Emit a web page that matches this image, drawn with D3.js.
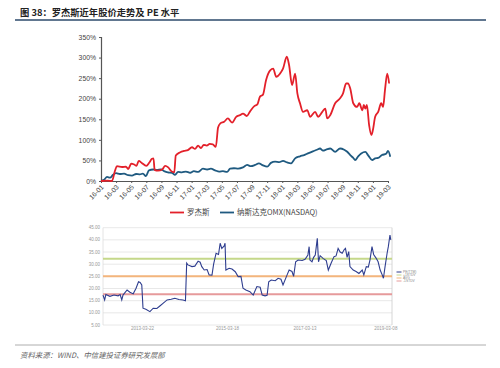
<!DOCTYPE html>
<html><head><meta charset="utf-8">
<script src="https://cdn.jsdelivr.net/npm/d3@7"></script>
<style>html,body{margin:0;padding:0;background:#fff;}svg{display:block;}</style>
</head><body>
<svg id="c" width="500" height="368"></svg>
<script>
// ---------- top chart data (months since 2016-01, cumulative return %) ----------
const xTickMonths = [0,2,4,6,8,10,12,14,16,18,20,22,24,26,28,30,32,34,36,38];
const xTickLabels = ["16-01","16-03","16-05","16-07","16-09","16-11","17-01","17-03","17-05","17-07","17-09","17-11","18-01","18-03","18-05","18-07","18-09","18-11","19-01","19-03"];
const yTicks = [0,50,100,150,200,250,300,350];
const seriesNames = ["罗杰斯","纳斯达克OMX(NASDAQ)"];

const rogersMonths = [0,0.9,1.45,1.85,2.1,2.8,3.3,3.6,4.0,4.4,4.7,5.0,5.4,6.0,6.4,6.75,6.95,7.1,7.55,8.1,8.5,8.9,9.3,9.7,9.9,10.5,11.0,11.5,12.05,12.45,12.85,13.25,13.6,14.0,14.4,14.8,15.2,15.5,15.8,16.3,16.8,17.35,17.9,18.4,18.8,19.3,19.7,20.3,20.7,21.05,21.45,21.85,22.4,22.8,23.2,23.7,24.1,24.6,24.9,25.3,25.7,26.0,26.35,26.75,27.3,27.7,28.35,28.75,29.3,29.7,29.95,30.35,31.0,31.65,32.05,32.45,32.7,33.0,33.4,33.9,34.2,34.6,34.8,35.0,35.2,35.5,35.8,36.0,36.3,36.7,37.1,37.35,37.6,37.9,38.15];
const rogersValues = [0,1,0,25,36,34,35,29,42,40,37,49,44,37,45,54,55,27,25,28,37,33,24,21,62,70,73,75,82,78,86,80,88,86,90,89,83,130,140,144,152,142,156,160,164,158,168,182,186,205,210,245,269,273,253,261,273,302,282,233,261,213,189,168,172,156,168,156,168,176,152,160,189,201,213,237,237,225,189,180,189,172,185,176,185,136,112,124,156,168,189,180,221,261,237];

const nasdaqMonths = [0,0.4,0.8,1.2,1.6,2.0,2.5,3.05,3.6,4.1,4.65,5.15,5.55,5.95,6.35,6.9,7.4,7.95,8.35,8.85,9.4,9.8,10.2,10.7,11.25,11.8,12.3,12.85,13.5,14.05,14.55,15.1,15.65,16.15,16.7,17.1,17.6,18.15,18.8,19.35,19.85,20.4,20.9,21.45,22.0,22.5,23.05,23.6,24.1,24.65,25.15,25.7,26.35,26.9,27.4,28.05,28.6,29.0,29.4,29.8,30.35,31.0,31.65,32.2,32.6,33.0,33.4,33.65,34.05,34.45,35.0,35.35,35.9,36.3,36.7,37.2,37.75,38.0,38.3];
const nasdaqValues = [0,3,10,8,15,19,17,18,14,13,17,16,18,12,26,28,27,28,24,21,20,15,22,21,23,20,24,22,30,28,30,26,23,24,22,30,31,30,33,39,36,39,43,38,35,44,47,46,49,45,43,55,60,63,67,72,76,79,74,76,79,71,79,76,71,63,56,51,60,67,71,63,51,55,56,63,66,73,59];

// ---------- bottom chart data (PE band) ----------
const peYTicks = [5,10,15,20,25,30,35,40,45];
const peXTickYears = [2013.22,2015.3,2017.2,2019.18];
const peXTickLabels = ["2013-03-22","2015-03-18","2017-03-13","2019-03-08"];
const peYears = [2012.25,2012.29,2012.32,2012.42,2012.52,2012.62,2012.67,2012.71,2012.74,2012.84,2012.91,2012.99,2013.06,2013.12,2013.16,2013.20,2013.23,2013.30,2013.40,2013.48,2013.57,2013.65,2013.72,2013.82,2013.92,2014.01,2014.11,2014.21,2014.27,2014.30,2014.33,2014.43,2014.50,2014.58,2014.63,2014.67,2014.73,2014.80,2014.85,2014.92,2014.96,2015.02,2015.08,2015.12,2015.16,2015.22,2015.24,2015.26,2015.34,2015.41,2015.49,2015.56,2015.63,2015.68,2015.75,2015.85,2015.93,2016.02,2016.10,2016.15,2016.22,2016.27,2016.31,2016.37,2016.47,2016.54,2016.61,2016.66,2016.76,2016.81,2016.88,2016.92,2016.97,2017.03,2017.13,2017.20,2017.27,2017.30,2017.32,2017.37,2017.41,2017.45,2017.50,2017.53,2017.57,2017.64,2017.72,2017.77,2017.84,2017.91,2017.96,2018.01,2018.06,2018.11,2018.16,2018.19,2018.23,2018.27,2018.30,2018.38,2018.45,2018.52,2018.60,2018.64,2018.70,2018.75,2018.79,2018.84,2018.88,2018.94,2018.99,2019.04,2019.09,2019.12,2019.16,2019.21,2019.24,2019.28,2019.30];
const peValues = [17.3,15.3,17.5,16.8,17.3,17.0,17.5,15.3,17.3,19.4,18.5,17.8,20.1,22.8,22.5,21.5,11.9,11.5,10.5,11.9,11.8,12.9,13.9,15.3,15.6,16.0,15.5,15.3,15.0,30.4,29.7,29.0,29.2,31.2,30.8,29.0,27.6,27.8,25.6,25.5,30.0,34.5,34.0,38.6,36.5,37.5,38.6,27.6,28.3,28.0,26.9,24.9,25.0,20.1,19.4,18.7,17.3,20.8,20.5,17.3,17.0,17.2,22.8,23.5,23.2,24.2,23.8,21.5,25.6,27.6,27.0,25.0,31.0,31.7,31.5,32.0,33.8,37.2,31.7,31.0,32.8,33.8,40.6,31.0,33.5,32.4,31.5,27.6,30.5,33.1,33.4,36.5,35.0,34.5,36.0,36.5,32.8,35.2,29.0,27.6,27.0,26.2,27.6,25.6,29.0,28.8,31.7,37.2,34.0,32.5,31.0,27.6,25.6,24.2,29.0,34.5,37.2,42.0,40.0];
const bandNames = ["PE(TTM)","+1STDV","AVG","-1STDV"];
const bandValues = [32.2, 25.0, 17.6]; // +1STDV, AVG, -1STDV

// ---------- drawing ----------
const svg = d3.select("#c");
const cjk = "'Noto Sans CJK SC','Noto Sans',sans-serif";

// title
svg.append("text").attr("x",20).attr("y",15.5).attr("font-family",cjk).attr("font-size",9.3)
  .attr("font-weight","bold").attr("fill","#222").text("图 38：罗杰斯近年股价走势及 PE 水平");
svg.append("line").attr("x1",15).attr("x2",486).attr("y1",20).attr("y2",20)
  .attr("stroke","#2c4a6b").attr("stroke-width",1.6);

// top chart
const x = d3.scaleLinear().domain([0,38]).range([101,388]);
const y = d3.scaleLinear().domain([0,350]).range([181,37]);
const topG = svg.append("g");

const yAxis = topG.append("g").attr("transform","translate(101,0)")
  .call(d3.axisLeft(y).tickValues(yTicks).tickFormat(d=>d+"%").tickSize(2).tickPadding(3));
yAxis.select(".domain").attr("stroke","#555").attr("stroke-width",1.2);
yAxis.selectAll(".tick line").attr("stroke","#555");
yAxis.selectAll("text").attr("font-family","Arial,'Liberation Sans',sans-serif").attr("font-size",6.8).attr("fill","#444");

const xAxis = topG.append("g").attr("transform","translate(0,181)")
  .call(d3.axisBottom(x).tickValues(xTickMonths).tickFormat((d,i)=>xTickLabels[i]).tickSize(2).tickSizeOuter(0));
xAxis.select(".domain").attr("stroke","#555").attr("stroke-width",1.2);
xAxis.selectAll(".tick line").attr("stroke","#555");
xAxis.selectAll("text").attr("font-family","Arial,'Liberation Sans',sans-serif").attr("font-size",6.8).attr("fill","#444")
  .attr("text-anchor","end").attr("x",0).attr("y",0).attr("dy","0.35em")
  .attr("transform","translate(1,5) rotate(-45)");

const line = (ms, vs) => d3.line().x((d,i)=>x(ms[i])).y(d=>y(d)).curve(d3.curveMonotoneX)(vs);
topG.append("path").attr("d",line(nasdaqMonths,nasdaqValues)).attr("fill","none")
  .attr("stroke","#1f5a80").attr("stroke-width",1.8);
topG.append("path").attr("d",line(rogersMonths,rogersValues)).attr("fill","none")
  .attr("stroke","#e3202a").attr("stroke-width",1.8);

// top legend
const lg = svg.append("g");
const legendColors = ["#e3202a","#1f5a80"];
const legendX = [170,220];
seriesNames.forEach((n,i)=>{
  lg.append("line").attr("x1",legendX[i]).attr("x2",legendX[i]+14).attr("y1",212.5).attr("y2",212.5)
    .attr("stroke",legendColors[i]).attr("stroke-width",1.8);
  lg.append("text").attr("x",legendX[i]+17).attr("y",215.3).attr("font-family",cjk)
    .attr("font-size",7.5).attr("fill","#444").text(n);
});

// bottom PE chart
const px = d3.scaleLinear().domain([2012.25,2019.33]).range([103,392]);
const py = d3.scaleLinear().domain([5,45]).range([325,227.7]);
const bot = svg.append("g");
bot.selectAll("line.grid").data(peYTicks).join("line").attr("class","grid")
  .attr("x1",103).attr("x2",392).attr("y1",d=>py(d)).attr("y2",d=>py(d))
  .attr("stroke","#e2e2e2").attr("stroke-width",0.8);
bot.append("line").attr("x1",103).attr("x2",103).attr("y1",py(45)).attr("y2",py(5)).attr("stroke","#ddd").attr("stroke-width",0.8);
bot.append("line").attr("x1",392).attr("x2",392).attr("y1",py(45)).attr("y2",py(5)).attr("stroke","#ccc").attr("stroke-width",0.8);
bot.selectAll("text.yl").data(peYTicks).join("text").attr("class","yl")
  .attr("x",100).attr("y",d=>py(d)+1.5).attr("text-anchor","end")
  .attr("font-family","Arial,'Liberation Sans',sans-serif").attr("font-size",4.5).attr("fill","#999")
  .text(d=>d.toFixed(2));
bot.selectAll("text.xl").data(peXTickYears).join("text").attr("class","xl")
  .attr("x",d=>px(d)).attr("y",329.5).attr("text-anchor","middle")
  .attr("font-family","Arial,'Liberation Sans',sans-serif").attr("font-size",4.5).attr("fill","#999")
  .text((d,i)=>peXTickLabels[i]);

const bandColors = ["#2e3d8f","#c5d88a","#f3b57c","#e69a9b"];
bandValues.forEach((v,i)=>{
  bot.append("line").attr("x1",103).attr("x2",392).attr("y1",py(v)).attr("y2",py(v))
    .attr("stroke",bandColors[i+1]).attr("stroke-width",2);
});
const peLine = d3.line().x((d,i)=>px(peYears[i])).y(d=>py(d));
bot.append("path").attr("d",peLine(peValues)).attr("fill","none")
  .attr("stroke","#2e3d8f").attr("stroke-width",1.1);

// PE legend
bandNames.forEach((n,i)=>{
  const yy = 272 + i*3;
  bot.append("line").attr("x1",396.5).attr("x2",401.5).attr("y1",yy).attr("y2",yy)
    .attr("stroke",bandColors[i]).attr("stroke-width",1);
  bot.append("text").attr("x",403).attr("y",yy+1.2).attr("font-family","Arial,'Liberation Sans',sans-serif")
    .attr("font-size",3.3).attr("fill","#888").text(n);
});

// footer
svg.append("line").attr("x1",15).attr("x2",486).attr("y1",345).attr("y2",345)
  .attr("stroke","#999").attr("stroke-width",0.8);
svg.append("text").attr("x",20).attr("y",358).attr("font-family",cjk).attr("font-size",7.4)
  .attr("font-style","italic").attr("fill","#666").text("资料来源：WIND、中信建投证券研究发展部");
</script>
</body></html>
